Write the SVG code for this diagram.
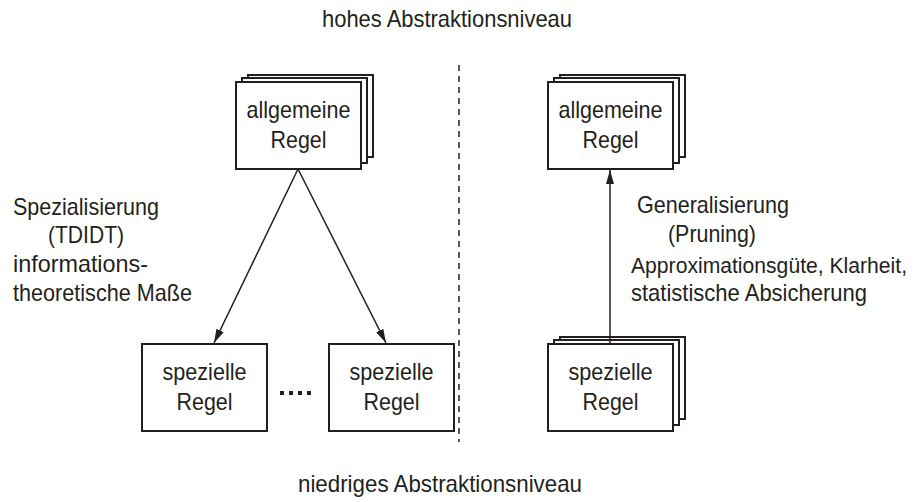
<svg xmlns="http://www.w3.org/2000/svg" width="918" height="502" viewBox="0 0 918 502">
  <defs>
    <style>
      text { font-family: "Liberation Sans", Arial, sans-serif; font-size: 24px; fill: #231f20; }
      .c { text-anchor: middle; }
      .box { fill: #fff; stroke: #231f20; stroke-width: 2; }
      .edge { stroke: #231f20; stroke-width: 1.5; fill: none; }
      .sep { stroke: #231f20; stroke-width: 1.5; stroke-dasharray: 6 5; }
    </style>
    <marker id="arrow" viewBox="0 0 14 8" refX="14" refY="4" markerWidth="14" markerHeight="8" markerUnits="userSpaceOnUse" orient="auto">
      <path d="M0,0 L14,4 L0,8 Z" fill="#231f20"/>
    </marker>
  </defs>

  <rect width="918" height="502" fill="#fff"/>

  <!-- level captions (narrow sans, compressed with textLength) -->
  <text x="322" y="27" textLength="250" lengthAdjust="spacingAndGlyphs">hohes Abstraktionsniveau</text>
  <text x="298" y="492" textLength="284" lengthAdjust="spacingAndGlyphs">niedriges Abstraktionsniveau</text>

  <!-- divider between the two approaches -->
  <line class="sep" x1="459" y1="65" x2="459" y2="442"/>

  <!-- left side: specialisation -->
  <g id="general-rule-left">
    <rect class="box" x="248" y="75" width="125" height="82"/>
    <rect class="box" x="242" y="78" width="125" height="85"/>
    <rect class="box" x="236" y="82" width="125" height="87"/>
    <text class="c" x="298.5" y="118" textLength="104" lengthAdjust="spacingAndGlyphs">allgemeine</text>
    <text class="c" x="298.5" y="148" textLength="56" lengthAdjust="spacingAndGlyphs">Regel</text>
  </g>

  <g id="special-rule-1">
    <rect class="box" x="142" y="344" width="125" height="87"/>
    <text class="c" x="204.5" y="380" textLength="84" lengthAdjust="spacingAndGlyphs">spezielle</text>
    <text class="c" x="204.5" y="410" textLength="56" lengthAdjust="spacingAndGlyphs">Regel</text>
  </g>

  <g id="ellipsis">
    <rect x="280" y="391" width="4" height="4" fill="#231f20"/>
    <rect x="289" y="391" width="4" height="4" fill="#231f20"/>
    <rect x="298" y="391" width="4" height="4" fill="#231f20"/>
    <rect x="307" y="391" width="4" height="4" fill="#231f20"/>
  </g>

  <g id="special-rule-2">
    <rect class="box" x="329" y="344" width="125" height="87"/>
    <text class="c" x="391.5" y="380" textLength="84" lengthAdjust="spacingAndGlyphs">spezielle</text>
    <text class="c" x="391.5" y="410" textLength="56" lengthAdjust="spacingAndGlyphs">Regel</text>
  </g>

  <g id="label-specialisation">
    <text x="13" y="215" textLength="146" lengthAdjust="spacingAndGlyphs">Spezialisierung</text>
    <text x="48" y="243" textLength="76" lengthAdjust="spacingAndGlyphs">(TDIDT)</text>
    <text x="13" y="272" textLength="135" lengthAdjust="spacingAndGlyphs">informations-</text>
    <text x="13" y="301" textLength="179" lengthAdjust="spacingAndGlyphs">theoretische Maße</text>
  </g>

  <!-- right side: generalisation -->
  <g id="general-rule-right">
    <rect class="box" x="560" y="75" width="125" height="82"/>
    <rect class="box" x="554" y="78" width="125" height="85"/>
    <rect class="box" x="548" y="82" width="125" height="87"/>
    <text class="c" x="610.5" y="118" textLength="104" lengthAdjust="spacingAndGlyphs">allgemeine</text>
    <text class="c" x="610.5" y="148" textLength="56" lengthAdjust="spacingAndGlyphs">Regel</text>
  </g>

  <g id="special-rule-right">
    <rect class="box" x="560" y="337" width="125" height="82"/>
    <rect class="box" x="554" y="340" width="125" height="85"/>
    <rect class="box" x="548" y="344" width="125" height="87"/>
    <text class="c" x="610.5" y="380" textLength="84" lengthAdjust="spacingAndGlyphs">spezielle</text>
    <text class="c" x="610.5" y="410" textLength="56" lengthAdjust="spacingAndGlyphs">Regel</text>
  </g>

  <g id="label-generalisation">
    <text x="637" y="213" textLength="152" lengthAdjust="spacingAndGlyphs">Generalisierung</text>
    <text x="668" y="242" textLength="88" lengthAdjust="spacingAndGlyphs">(Pruning)</text>
    <text x="631" y="273" style="font-size:21.5px" textLength="276" lengthAdjust="spacingAndGlyphs">Approximationsgüte, Klarheit,</text>
    <text x="631" y="301" textLength="236" lengthAdjust="spacingAndGlyphs">statistische Absicherung</text>
  </g>

  <!-- connectors -->
  <g id="connectors">
    <line class="edge" x1="298" y1="169" x2="214" y2="343" marker-end="url(#arrow)"/>
    <line class="edge" x1="298" y1="169" x2="386" y2="343" marker-end="url(#arrow)"/>
    <line class="edge" x1="610" y1="344" x2="610" y2="170" marker-end="url(#arrow)"/>
  </g>
</svg>
